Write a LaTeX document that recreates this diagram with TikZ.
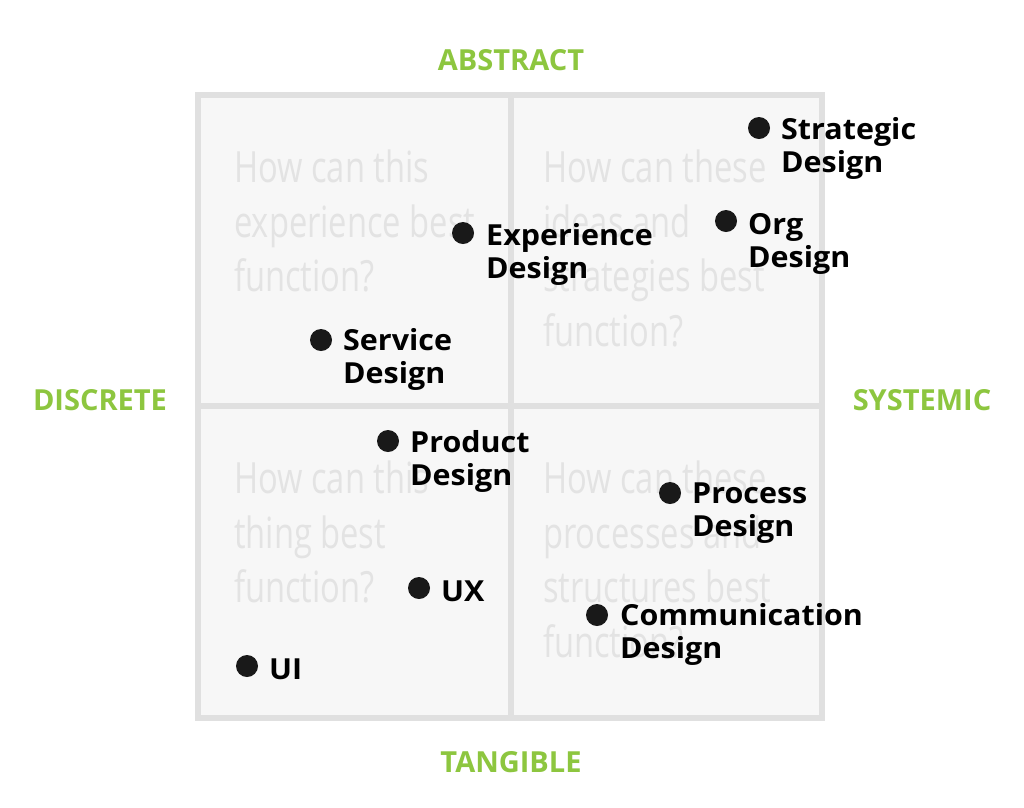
\documentclass[tikz,border=0pt]{standalone}
\usepackage{fontspec}
\setmainfont{Open Sans}
\newfontfamily\qfont[FakeStretch=0.76]{Open Sans}
\newfontfamily\lfont[FakeStretch=1.05]{Open Sans}
\definecolor{grn}{HTML}{8DC63F}
\definecolor{gline}{HTML}{E0E0E0}
\definecolor{gfill}{HTML}{F7F7F7}
\definecolor{qtxt}{HTML}{E3E3E3}
\begin{document}
\begin{tikzpicture}[x=1pt,y=-1pt,
  axis/.style={text=grn,font=\fontsize{29}{32}\selectfont\bfseries,inner sep=0},
  q/.style={anchor=north west,inner sep=0,align=left,text=qtxt,font=\qfont\fontsize{43}{54.5}\selectfont},
  dot/.style={circle,fill=black!90,minimum size=22pt,inner sep=0},
  lab/.style={anchor=west,inner sep=0,align=left,font=\lfont\fontsize{29}{33}\selectfont\bfseries}]
\useasboundingbox (0,0) rectangle (1024,807);
\fill[white] (0,0) rectangle (1024,807);
\fill[gfill] (198,95) rectangle (822,718);
\node[q] (q1) at (234,150) {How can this\\experience best\\function?};
\node[q] (q2) at (543,150) {How can these\\ideas and\\strategies best\\function?};
\node[q] (q3) at (234,461) {How can this\\thing best\\function?};
\node[q] (q4) at (543,461) {How can these\\processes and\\structures best\\function?};
\draw[gline,line width=6pt] (198,95) rectangle (822,718);
\draw[gline,line width=6pt] (511,95) -- (511,718);
\draw[gline,line width=6pt] (198,406) -- (822,406);
\node[axis] (ab) at (511,60) {ABSTRACT};
\node[axis] (tg) at (511,762) {TANGIBLE};
\node[axis] (ds) at (100,400) {DISCRETE};
\node[axis] (sy) at (922,400) {SYSTEMIC};
\node[dot] (d1) at (759,128) {}; \node[lab] (l1) at (781,148) {Strategic\\Design};
\node[dot] (d2) at (726,221) {}; \node[lab] (l2) at (748,244) {Org\\Design};
\node[dot] (d3) at (463,233) {}; \node[lab] (l3) at (486,254) {Experience\\Design};
\node[dot] (d4) at (321,340) {}; \node[lab] (l4) at (343,359) {Service\\Design};
\node[dot] (d5) at (388,441) {}; \node[lab] (l5) at (410,461) {Product\\Design};
\node[dot] (d6) at (670,493) {}; \node[lab] (l6) at (692,513) {Process\\Design};
\node[dot] (d7) at (597,615) {}; \node[lab] (l7) at (620,634) {Communication\\Design};
\node[dot] (d8) at (419,588) {}; \node[lab] (l8) at (441,591) {UX};
\node[dot] (d9) at (247,666) {}; \node[lab] (l9) at (269,669) {UI};
\end{tikzpicture}
\end{document}
